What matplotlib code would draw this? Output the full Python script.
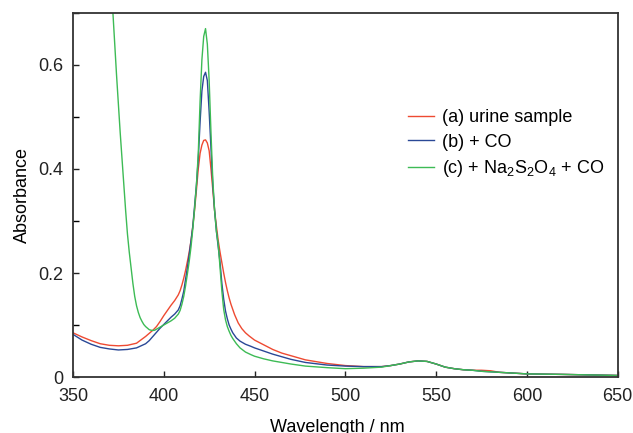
import matplotlib
matplotlib.use("Agg")
import matplotlib.pyplot as plt
from matplotlib.ticker import MultipleLocator

plt.rcParams['font.family'] = ['Liberation Sans', 'DejaVu Sans']
plt.rcParams['mathtext.fontset'] = 'custom'
plt.rcParams['mathtext.rm'] = 'Liberation Sans'
plt.rcParams['mathtext.it'] = 'Liberation Sans'

# spectra (wavelength in nm, absorbance)
wl_a = [350, 355, 360, 365, 370, 375, 380, 385, 390, 392, 394, 396, 398, 400, 402, 404,
        406, 408, 409, 410, 411, 412, 413, 414, 415, 416, 417, 418, 419, 420, 421, 422,
        423, 424, 425, 426, 427, 428, 429, 430, 431, 432, 433, 434, 435, 436, 437, 439,
        441, 443, 445, 447, 450, 455, 460, 465, 470, 478, 490, 500, 510, 520, 525, 530,
        535, 540, 545, 550, 555, 560, 565, 570, 575, 580, 585, 590, 600, 620, 650]
abs_a = [0.085, 0.077, 0.070, 0.064, 0.061, 0.060, 0.061, 0.065, 0.078, 0.084, 0.090, 0.097,
         0.107, 0.118, 0.128, 0.138, 0.147, 0.158, 0.166, 0.177, 0.190, 0.205, 0.222, 0.240,
         0.262, 0.290, 0.322, 0.360, 0.400, 0.430, 0.446, 0.455, 0.456, 0.450, 0.435, 0.400,
         0.360, 0.320, 0.290, 0.262, 0.240, 0.220, 0.200, 0.182, 0.166, 0.152, 0.140, 0.120,
         0.104, 0.093, 0.085, 0.079, 0.071, 0.062, 0.053, 0.046, 0.041, 0.033, 0.026, 0.022,
         0.020, 0.020, 0.022, 0.025, 0.029, 0.031, 0.030, 0.025, 0.019, 0.016, 0.014, 0.013,
         0.013, 0.012, 0.009, 0.008, 0.006, 0.005, 0.003]

wl_b = [350, 355, 360, 365, 370, 375, 380, 385, 390, 392, 394, 396, 398, 400, 402, 404,
        406, 408, 409, 410, 411, 412, 413, 414, 415, 416, 417, 418, 419, 420, 421, 422,
        423, 424, 425, 426, 427, 428, 429, 430, 431, 432, 433, 434, 435, 436, 437, 438,
        440, 442, 445, 448, 450, 455, 460, 470, 478, 490, 500, 510, 520, 525, 530, 535,
        540, 545, 550, 555, 560, 565, 570, 575, 580, 585, 590, 600, 620, 650]
abs_b = [0.082, 0.071, 0.063, 0.057, 0.054, 0.052, 0.053, 0.056, 0.064, 0.070, 0.078, 0.086,
         0.094, 0.101, 0.108, 0.115, 0.121, 0.129, 0.137, 0.150, 0.165, 0.188, 0.210, 0.235,
         0.262, 0.290, 0.330, 0.370, 0.420, 0.490, 0.550, 0.578, 0.586, 0.570, 0.510, 0.440,
         0.370, 0.320, 0.280, 0.250, 0.220, 0.180, 0.150, 0.127, 0.112, 0.100, 0.092, 0.085,
         0.075, 0.069, 0.063, 0.059, 0.056, 0.050, 0.044, 0.034, 0.028, 0.023, 0.021, 0.020,
         0.020, 0.022, 0.025, 0.029, 0.031, 0.030, 0.025, 0.019, 0.016, 0.014, 0.013, 0.011,
         0.010, 0.009, 0.008, 0.006, 0.005, 0.003]

wl_c = [350, 355, 360, 365, 370, 372, 374, 376, 377, 378, 379, 380, 381, 382, 383, 384,
        385, 386, 387, 388, 389, 390, 391, 392, 393, 394, 395, 396, 398, 400, 402, 404,
        406, 408, 409, 410, 411, 412, 413, 414, 415, 416, 417, 418, 419, 420, 421, 422,
        423, 424, 425, 426, 427, 428, 429, 430, 431, 432, 433, 434, 435, 436, 437, 438,
        440, 442, 445, 448, 450, 455, 460, 470, 478, 490, 500, 510, 520, 525, 530, 535,
        540, 545, 550, 555, 560, 565, 570, 575, 580, 585, 590, 600, 620, 650]
abs_c = [1.60, 1.40, 1.20, 1.00, 0.82, 0.70, 0.58, 0.47, 0.42, 0.37, 0.32, 0.275, 0.240,
         0.210, 0.180, 0.155, 0.137, 0.124, 0.114, 0.107, 0.101, 0.097, 0.094, 0.091, 0.090,
         0.0895, 0.090, 0.092, 0.096, 0.100, 0.104, 0.108, 0.113, 0.121, 0.128, 0.140, 0.155,
         0.175, 0.198, 0.222, 0.250, 0.285, 0.325, 0.370, 0.430, 0.530, 0.610, 0.655, 0.670,
         0.640, 0.570, 0.470, 0.380, 0.320, 0.280, 0.255, 0.210, 0.165, 0.130, 0.110, 0.097,
         0.088, 0.080, 0.074, 0.064, 0.056, 0.048, 0.043, 0.040, 0.035, 0.031, 0.025, 0.021,
         0.018, 0.016, 0.017, 0.019, 0.022, 0.025, 0.029, 0.031, 0.030, 0.025, 0.019, 0.016,
         0.014, 0.013, 0.011, 0.010, 0.009, 0.008, 0.006, 0.005, 0.003]

labels = ['(a) urine sample', '(b) + CO', '(c) + Na$_2$S$_2$O$_4$ + CO']
colors = ['#ee4a32', '#2a4896', '#3dbb55']

fig = plt.figure(figsize=(6.33, 4.33), dpi=100)
ax = fig.add_axes([0.1153, 0.1293, 0.8605, 0.8407])

ax.plot(wl_a, abs_a, color=colors[0], lw=1.0, label=labels[0])
ax.plot(wl_b, abs_b, color=colors[1], lw=1.0, label=labels[1])
ax.plot(wl_c, abs_c, color=colors[2], lw=1.0, label=labels[2])

ax.set_xlim(350, 650)
ax.set_ylim(0, 0.7)
ax.set_xticks([350, 400, 450, 500, 550, 600, 650])
ax.set_yticks([0, 0.2, 0.4, 0.6])
ax.set_yticklabels(['0', '0.2', '0.4', '0.6'])
ax.yaxis.set_minor_locator(MultipleLocator(0.1))
ax.tick_params(direction='in', length=4, width=1, labelsize=13, colors='#222222', pad=8)
ax.tick_params(axis='y', pad=7)
ax.tick_params(which='minor', direction='in', length=4, width=1)
for s in ax.spines.values():
    s.set_linewidth(1.3)
    s.set_color('#333333')

ax.set_ylabel('Absorbance', fontsize=13)
ax.yaxis.set_label_coords(-0.078, 0.5)
ax.set_xlabel('Wavelength / nm', fontsize=13)
ax.xaxis.set_label_coords(0.486, -0.114)

ax.legend(loc='upper left', bbox_to_anchor=(0.645, 0.748), bbox_transform=fig.transFigure,
          frameon=False, fontsize=13, handlelength=1.45, handletextpad=0.4,
          labelspacing=0.42, borderpad=0, borderaxespad=0)

fig.savefig('out.png', dpi=100)
